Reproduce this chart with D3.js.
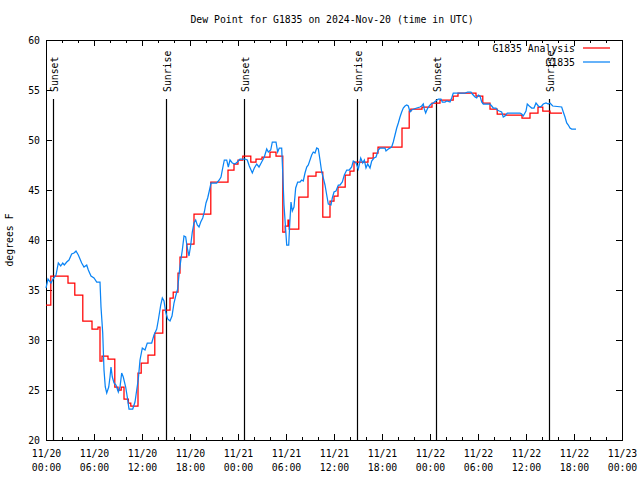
<!DOCTYPE html>
<html><head><meta charset="utf-8">
<script src="https://cdn.jsdelivr.net/npm/d3@7"></script>
<style>
body{margin:0;background:#fff;}
text{font-family:"DejaVu Sans Mono","Liberation Mono",monospace;font-size:9.8px;fill:#000;}
</style></head><body>
<svg id="chart" width="640" height="480"></svg>
<script>
// ---------- data ----------
const title = "Dew Point for G1835 on 2024-Nov-20 (time in UTC)";
const yLabel = "degrees F";
const startUTC = Date.UTC(2024, 10, 20, 0, 0);
const spanHours = 72;
const yTicks = [20, 25, 30, 35, 40, 45, 50, 55, 60];

// Analysis (hourly, stepped): hours after 11/20 00:00 UTC, deg F
const analysisHours = [0, 0.6, 2.75, 3.6, 4.6, 5.75, 6.5, 6.75, 7.0, 7.75, 8.6, 9.0, 9.4, 9.75, 10.3, 10.6, 11.5, 11.9, 12.75, 13.6, 14.6, 15.5, 15.9, 16.5, 16.75, 17.6, 18.5, 20.6, 22.75, 23.5, 24.0, 24.6, 25.6, 26.25, 27.0, 28.0, 28.75, 29.6, 29.9, 30.25, 30.4, 31.6, 32.75, 33.75, 34.6, 35.5, 36.0, 36.5, 37.4, 38.0, 38.5, 40.25, 40.9, 41.5, 44.5, 45.4, 45.6, 47.0, 48.25, 49.25, 50.9, 51.5, 53.75, 54.6, 55.5, 56.4, 57.4, 59.5, 60.5, 61.5, 62.1, 63.0, 64.5];
const analysisValues = [33.5, 36.4, 35.7, 34.5, 31.9, 31.1, 31.3, 27.9, 28.4, 28.1, 25.3, 25.0, 25.3, 24.1, 23.7, 23.4, 26.7, 27.7, 28.5, 30.7, 33.0, 34.2, 34.8, 36.7, 38.3, 39.6, 42.6, 45.8, 47.0, 47.6, 48.0, 48.4, 47.8, 48.1, 48.3, 48.8, 48.4, 40.8, 41.4, 42.0, 41.1, 44.3, 46.4, 46.8, 42.3, 43.9, 44.4, 45.3, 46.5, 46.9, 47.8, 48.2, 48.7, 49.3, 51.2, 52.9, 53.1, 53.3, 53.7, 54.0, 54.4, 54.7, 54.4, 53.7, 53.1, 52.6, 52.5, 52.2, 52.7, 53.3, 52.9, 52.7, 52.7];

// Station observations
const obsHours = [0, 0.25, 0.625, 0.875, 1.25, 1.54, 1.84, 2.09, 2.29, 2.59, 2.875, 3.21, 3.5, 3.75, 4.04, 4.46, 4.75, 5.09, 5.29, 5.625, 6.0, 6.34, 6.75, 6.875, 7.09, 7.25, 7.41, 7.59, 7.84, 8.0, 8.125, 8.29, 8.5, 8.75, 9.04, 9.25, 9.46, 9.66, 9.96, 10.16, 10.375, 10.84, 11.125, 11.34, 11.54, 11.75, 12.04, 12.375, 12.66, 13.21, 13.5, 13.84, 14.04, 14.34, 14.54, 14.75, 14.96, 15.21, 15.5, 15.75, 16.0, 16.21, 16.46, 16.66, 16.84, 17.04, 17.25, 17.46, 17.66, 17.875, 18.09, 18.29, 18.5, 18.71, 18.91, 19.125, 19.34, 19.59, 19.79, 20.0, 20.21, 20.41, 20.625, 21.34, 21.66, 21.875, 22.04, 22.29, 22.59, 22.79, 23.0, 23.29, 23.625, 23.91, 24.25, 24.875, 25.16, 25.41, 25.79, 26.04, 26.34, 26.625, 26.96, 27.29, 27.59, 27.79, 28.09, 28.29, 28.75, 28.96, 29.16, 29.46, 29.59, 29.75, 29.96, 30.09, 30.34, 30.46, 30.625, 30.79, 31.0, 31.21, 31.46, 31.75, 31.96, 32.16, 32.375, 32.59, 32.79, 33.21, 33.41, 33.625, 33.84, 34.04, 34.25, 34.46, 34.66, 34.875, 35.09, 35.29, 35.625, 35.79, 36.0, 36.25, 36.54, 36.75, 37.04, 37.29, 37.59, 37.91, 38.21, 38.41, 38.75, 39.04, 39.34, 39.59, 39.79, 40.0, 40.21, 40.5, 40.71, 41.0, 41.25, 41.54, 41.75, 42.375, 42.5, 42.79, 43.21, 43.41, 43.625, 43.84, 44.04, 44.25, 44.46, 44.66, 44.875, 45.09, 45.29, 45.5, 45.71, 46.0, 46.34, 46.75, 46.96, 47.16, 47.29, 47.46, 47.66, 47.91, 48.125, 48.41, 48.71, 49.04, 49.375, 49.54, 49.875, 50.09, 50.5, 50.71, 50.91, 51.625, 52.375, 52.71, 53.125, 53.29, 53.625, 53.84, 54.04, 54.25, 54.46, 54.66, 55.5, 55.71, 55.91, 56.25, 56.41, 56.66, 56.96, 57.16, 57.375, 57.66, 57.91, 59.25, 59.46, 59.66, 60.0, 60.16, 60.41, 60.71, 61.0, 61.25, 61.54, 61.75, 61.96, 62.16, 62.5, 62.79, 63.0, 63.34, 64.46, 64.66, 64.875, 65.09, 65.29, 65.5, 65.71, 66.25];
const obsValues = [35.2, 36.1, 35.7, 36.1, 36.5, 37.7, 37.4, 37.7, 37.5, 37.8, 38.0, 38.6, 38.7, 38.9, 38.5, 37.7, 37.3, 37.5, 37.0, 36.4, 36.2, 35.8, 35.8, 33.3, 30.7, 27.0, 25.3, 24.7, 25.3, 26.3, 27.3, 26.3, 25.7, 25.5, 24.8, 25.3, 26.7, 26.3, 25.3, 24.3, 23.1, 23.1, 23.8, 25.0, 26.1, 28.0, 29.2, 29.0, 29.7, 29.7, 30.5, 31.1, 32.0, 33.5, 34.2, 33.9, 32.8, 32.1, 31.9, 32.4, 33.7, 34.4, 35.1, 36.8, 37.9, 39.0, 40.4, 40.3, 39.2, 38.4, 39.5, 40.8, 41.7, 42.0, 41.5, 41.3, 41.8, 42.2, 42.8, 43.7, 44.2, 44.9, 45.7, 45.7, 46.0, 46.3, 47.0, 48.0, 48.0, 47.3, 48.0, 47.7, 47.6, 47.8, 48.1, 48.1, 48.0, 47.4, 46.7, 47.2, 47.6, 47.3, 47.8, 48.3, 49.1, 48.8, 49.0, 49.8, 49.8, 48.8, 49.2, 49.2, 46.8, 43.5, 41.0, 39.5, 39.5, 41.5, 43.8, 42.9, 43.3, 45.2, 45.8, 45.8, 46.0, 45.9, 46.7, 47.3, 47.5, 48.5, 48.8, 48.7, 49.2, 49.1, 48.0, 46.8, 46.2, 45.5, 44.5, 43.6, 43.5, 44.2, 44.8, 44.9, 45.5, 45.5, 45.8, 46.5, 47.0, 47.0, 47.3, 47.9, 47.7, 47.1, 48.2, 47.7, 48.0, 47.2, 47.6, 47.2, 47.9, 48.2, 48.3, 49.0, 49.2, 49.2, 48.9, 49.1, 49.3, 49.8, 50.5, 51.2, 51.7, 52.3, 52.8, 53.2, 53.4, 53.5, 53.4, 52.8, 53.0, 53.1, 53.2, 53.3, 53.4, 53.6, 53.1, 52.7, 53.1, 53.4, 53.6, 53.7, 53.9, 54.1, 54.1, 53.8, 53.8, 53.9, 53.8, 54.2, 54.7, 54.7, 54.7, 54.8, 54.8, 54.6, 54.3, 54.2, 54.5, 54.4, 53.8, 53.6, 53.6, 53.4, 53.2, 53.2, 53.0, 52.9, 52.8, 52.3, 52.4, 52.7, 52.7, 52.7, 52.6, 52.4, 52.9, 53.6, 53.4, 53.2, 53.2, 53.7, 53.4, 53.3, 53.4, 53.6, 53.7, 53.6, 53.7, 53.4, 53.3, 52.8, 52.3, 51.7, 51.5, 51.2, 51.1, 51.1];

// Sun events
const sunLabels = ["Sunset", "Sunrise", "Sunset", "Sunrise", "Sunset", "Sunrise"];
const sunHours = [0.9, 15.04, 24.79, 38.91, 48.75, 62.9];

const seriesNames = ["G1835 Analysis", "G1835"];
const seriesColors = ["#ff0000", "#0a84f5"];

// ---------- chart ----------
const hr = h => new Date(startUTC + h * 3600e3);
const svg = d3.select("#chart");
const L = 46, R = 622, T = 40, B = 440;
const x = d3.scaleUtc().domain([hr(0), hr(spanHours)]).range([L, R]);
const y = d3.scaleLinear().domain([20, 60]).range([B, T]);

const majorTicks = d3.range(0, spanHours + 1, 6).map(hr);
const minorTicks = d3.range(0, spanHours + 1, 2).filter(h => h % 6 !== 0).map(hr);
const fmtDate = d3.utcFormat("%m/%d"), fmtTime = d3.utcFormat("%H:%M");

// bottom axis
const gB = svg.append("g").attr("transform", `translate(0,${B})`)
  .call(d3.axisBottom(x).tickValues(majorTicks).tickSizeInner(-6).tickSizeOuter(0).tickPadding(8).tickFormat(""));
gB.selectAll(".tick").append("text")
  .attr("text-anchor", "middle").attr("y", 17).text(d => fmtDate(d));
gB.selectAll(".tick").append("text")
  .attr("text-anchor", "middle").attr("y", 31).text(d => fmtTime(d));
svg.append("g").attr("transform", `translate(0,${B})`)
  .call(d3.axisBottom(x).tickValues(minorTicks).tickSizeInner(-3).tickSizeOuter(0).tickFormat(""));
// top axis (mirror)
svg.append("g").attr("transform", `translate(0,${T})`)
  .call(d3.axisTop(x).tickValues(majorTicks).tickSizeInner(-6).tickSizeOuter(0).tickFormat(""));
svg.append("g").attr("transform", `translate(0,${T})`)
  .call(d3.axisTop(x).tickValues(minorTicks).tickSizeInner(-3).tickSizeOuter(0).tickFormat(""));
// left axis
const gL = svg.append("g").attr("transform", `translate(${L},0)`)
  .call(d3.axisLeft(y).tickValues(yTicks).tickSizeInner(-6).tickSizeOuter(0).tickPadding(6).tickFormat(d3.format("d")));
gL.selectAll(".tick text").attr("x", -6);
// right axis (mirror)
svg.append("g").attr("transform", `translate(${R},0)`)
  .call(d3.axisRight(y).tickValues(yTicks).tickSizeInner(-6).tickSizeOuter(0).tickFormat(""));

svg.selectAll(".domain").remove();
svg.selectAll(".tick line").attr("stroke", "#000").attr("shape-rendering", "crispEdges");
svg.selectAll(".tick text").attr("font-family", null).attr("font-size", null);

// frame
svg.append("rect").attr("x", L + 0.5).attr("y", T + 0.5).attr("width", R - L).attr("height", B - T)
  .attr("fill", "none").attr("stroke", "#000").attr("shape-rendering", "crispEdges");

// sun lines
const sun = svg.append("g");
sunHours.forEach((h, i) => {
  const sx = Math.round(x(hr(h))) + 0.5;
  sun.append("line").attr("x1", sx).attr("x2", sx).attr("y1", y(54.1)).attr("y2", B)
    .attr("stroke", "#000").attr("stroke-width", 1.2);
  sun.append("text").attr("transform", `translate(${sx + 4},${y(54.8)}) rotate(-90)`)
    .attr("text-anchor", "start").text(sunLabels[i]);
});

// series
const analysisData = analysisHours.map((h, i) => [hr(h), analysisValues[i]]);
const obsData = obsHours.map((h, i) => [hr(h), obsValues[i]]);
svg.append("path").datum(analysisData)
  .attr("d", d3.line().x(d => x(d[0])).y(d => y(d[1])).curve(d3.curveStepAfter))
  .attr("fill", "none").attr("stroke", seriesColors[0]).attr("stroke-width", 1.25);
svg.append("path").datum(obsData)
  .attr("d", d3.line().x(d => x(d[0])).y(d => y(d[1])))
  .attr("fill", "none").attr("stroke", seriesColors[1]).attr("stroke-width", 1.25);

// legend
seriesNames.forEach((n, i) => {
  const ly = 48 + i * 14;
  svg.append("text").attr("x", 575).attr("y", ly + 3.5).attr("text-anchor", "end").text(n);
  svg.append("line").attr("x1", 583).attr("x2", 610).attr("y1", ly).attr("y2", ly)
    .attr("stroke", seriesColors[i]).attr("stroke-width", 1.25);
});

// title and y label
svg.append("text").attr("x", 332).attr("y", 23).attr("text-anchor", "middle").text(title);
svg.append("text").attr("transform", `translate(13,240) rotate(-90)`).attr("text-anchor", "middle").text(yLabel);
</script>
</body></html>
